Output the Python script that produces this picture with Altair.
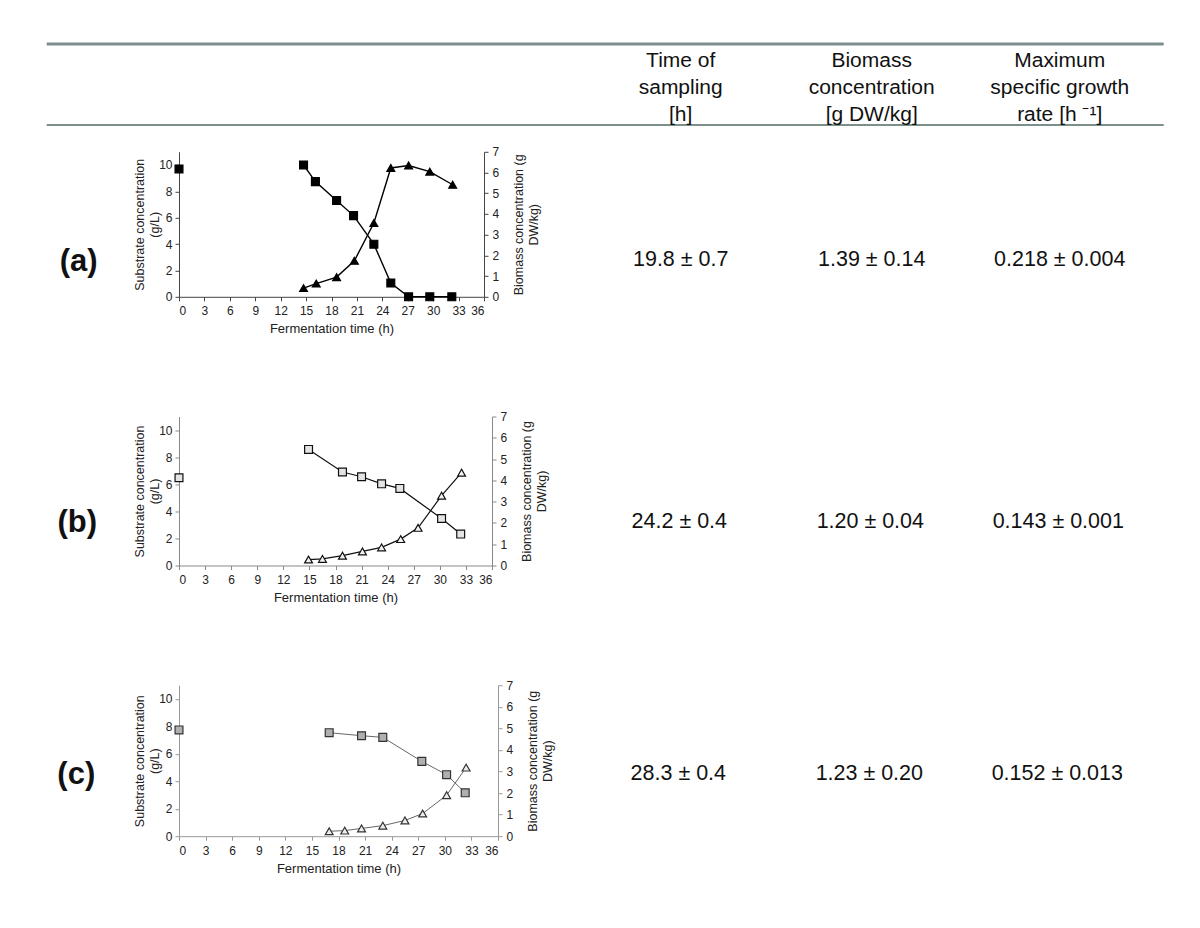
import altair as alt
import pandas as pd

FONT = "Liberation Sans"

# ---------------- data ----------------
headers = ["Time of\nsampling\n[h]", "Biomass\nconcentration\n[g DW/kg]", "Maximum\nspecific growth\nrate [h \u207b\u00b9]"]
row_labels = ["(a)", "(b)", "(c)"]
sampling_time = ["19.8 \u00b1 0.7", "24.2 \u00b1 0.4", "28.3 \u00b1 0.4"]
biomass_conc = ["1.39 \u00b1 0.14", "1.20 \u00b1 0.04", "1.23 \u00b1 0.20"]
max_growth = ["0.218 \u00b1 0.004", "0.143 \u00b1 0.001", "0.152 \u00b1 0.013"]

x_ticks = [0, 3, 6, 9, 12, 15, 18, 21, 24, 27, 30, 33, 36]
left_ticks = [0, 2, 4, 6, 8, 10]
right_ticks = [0, 1, 2, 3, 4, 5, 6, 7]

a_sub_t = [0, 14.7, 16.1, 18.6, 20.6, 23.0, 25.0, 27.1, 29.6, 32.2]
a_sub_v = [9.7, 10.0, 8.74, 7.30, 6.16, 3.99, 1.05, 0, 0, 0]
a_bio_t = [14.7, 16.2, 18.6, 20.7, 23.0, 25.0, 27.1, 29.6, 32.3]
a_bio_v = [0.42, 0.64, 0.95, 1.74, 3.56, 6.22, 6.34, 6.04, 5.41]

b_sub_t = [0, 14.9, 18.8, 21.0, 23.3, 25.4, 30.2, 32.4]
b_sub_v = [6.48, 8.57, 6.90, 6.55, 6.03, 5.69, 3.47, 2.32]
b_bio_t = [14.9, 16.5, 18.8, 21.1, 23.3, 25.5, 27.5, 30.2, 32.5]
b_bio_v = [0.28, 0.31, 0.46, 0.66, 0.85, 1.24, 1.77, 3.28, 4.36]

c_sub_t = [0, 16.95, 20.6, 23.0, 27.4, 30.2, 32.3]
c_sub_v = [7.74, 7.54, 7.32, 7.20, 5.45, 4.48, 3.16]
c_bio_t = [16.95, 18.7, 20.6, 23.0, 25.5, 27.5, 30.2, 32.4]
c_bio_v = [0.23, 0.26, 0.36, 0.49, 0.73, 1.05, 1.90, 3.18]

# ---------------- layout constants (page pixels) ----------------
COL_X = [681, 872, 1060]
RULE_X1, RULE_X2 = 47, 1164
RULE_COLOR = "#7d8f8c"
HEADER_BASE = 66.7
LINE_H = 26.7

STYLES = [
    dict(sq_fill="#000000", sq_stroke="#000000", tri_fill="#000000", tri_stroke="#000000",
         line="#000000", lw=1.4, axis="#444444"),
    dict(sq_fill="#e4e4e4", sq_stroke="#111111", tri_fill="#f2f2f2", tri_stroke="#111111",
         line="#111111", lw=1.2, axis="#8a8a8a"),
    dict(sq_fill="#b0b0b0", sq_stroke="#333333", tri_fill="#eeeeee", tri_stroke="#333333",
         line="#666666", lw=1.0, axis="#999999"),
]


def one():
    return pd.DataFrame({"k": [0]})


def text_layer(s, x, y, size, weight="normal"):
    return alt.Chart(pd.DataFrame({"t": [s]})).mark_text(
        font=FONT, fontSize=size, fontWeight=weight, align="center",
        baseline="alphabetic", color="#111111", lineBreak="\n", lineHeight=LINE_H,
    ).encode(text="t:N", x=alt.value(x), y=alt.value(y))


def panel(i, sub_t, sub_v, bio_t, bio_v, w, h, ox, oy, label_base, value_base, header=False):
    st = STYLES[i]
    sub = pd.DataFrame({"t": sub_t, "v": sub_v})
    bio = pd.DataFrame({"t": bio_t, "v": bio_v})
    xenc = alt.X("t:Q", scale=alt.Scale(domain=[0, 36], nice=False, zero=False),
                 axis=alt.Axis(values=x_ticks, title="Fermentation time (h)", grid=False,
                               labelFontSize=12, titleFontSize=13, titleFontWeight="normal",
                               tickSize=4, labelPadding=5, titlePadding=6,
                               domainColor=st["axis"], tickColor=st["axis"],
                               labelColor="#222222", titleColor="#222222"))
    yl = alt.Y("v:Q", scale=alt.Scale(domain=[0, 11], nice=False),
               axis=alt.Axis(orient="left", values=left_ticks, grid=False,
                             title=["Substrate concentration", "(g/L)"],
                             labelFontSize=12, titleFontSize=12.5, titleFontWeight="normal",
                             titleLineHeight=15, tickSize=4, labelPadding=3, titlePadding=-3,
                             domainColor=st["axis"], tickColor=st["axis"],
                             labelColor="#222222", titleColor="#222222"))
    yr = alt.Y("v:Q", scale=alt.Scale(domain=[0, 7], nice=False),
               axis=alt.Axis(orient="right", values=right_ticks, grid=False,
                             title=["Biomass concentration (g", "DW/kg)"],
                             titleAngle=270, titleBaseline="top",
                             labelFontSize=12, titleFontSize=12.5, titleFontWeight="normal",
                             titleLineHeight=15, tickSize=4, labelPadding=4, titlePadding=-1,
                             domainColor=st["axis"], tickColor=st["axis"],
                             labelColor="#222222", titleColor="#222222"))

    sub_line = alt.Chart(sub).transform_filter("datum.t > 0").mark_line(
        color=st["line"], strokeWidth=st["lw"]).encode(x=xenc, y=yl)
    sub_pts = alt.Chart(sub).mark_point(
        shape="square", size=62, fill=st["sq_fill"], stroke=st["sq_stroke"],
        strokeWidth=1.2, opacity=1).encode(x=xenc, y=yl)
    bio_line = alt.Chart(bio).mark_line(
        color=st["line"], strokeWidth=st["lw"]).encode(x=xenc, y=yr)
    bio_pts = alt.Chart(bio).mark_point(
        shape="triangle-up", size=62, fill=st["tri_fill"], stroke=st["tri_stroke"],
        strokeWidth=1.2, opacity=1).encode(x=xenc, y=yr)

    left = alt.layer(sub_line, sub_pts)
    right = alt.layer(bio_line, bio_pts)

    extra = []
    # invisible (white) helper that fixes the panel's outer bounds
    top_helper = 0 if header else -20
    extra.append(alt.Chart(one()).mark_rule(color="white", strokeWidth=3).encode(
        x=alt.value(RULE_X1 - ox), y=alt.value(top_helper), y2=alt.value(h + 50)))
    # row label and table values
    extra.append(text_layer(row_labels[i], 79 - ox, label_base - oy, 31, "bold"))
    for cx, vals in zip(COL_X, [sampling_time, biomass_conc, max_growth]):
        extra.append(text_layer(vals[i], cx - ox, value_base - oy, 21.5))
    if header:
        extra.append(alt.Chart(one()).mark_rule(color=RULE_COLOR, strokeWidth=3).encode(
            x=alt.value(RULE_X1 - ox), x2=alt.value(RULE_X2 - ox), y=alt.value(43.3 - oy)))
        extra.append(alt.Chart(one()).mark_rule(color=RULE_COLOR, strokeWidth=2).encode(
            x=alt.value(RULE_X1 - ox), x2=alt.value(RULE_X2 - ox), y=alt.value(124.3 - oy)))
        for cx, htxt in zip(COL_X, headers):
            extra.append(text_layer(htxt, cx - ox, HEADER_BASE - oy, 21))

    return alt.layer(left, right, *extra).resolve_scale(y="independent").properties(
        width=w, height=h)


A = panel(0, a_sub_t, a_sub_v, a_bio_t, a_bio_v, 305, 145, 179.3, 151.0, 270, 265, header=True)
B = panel(1, b_sub_t, b_sub_v, b_bio_t, b_bio_v, 313, 149, 180.7, 414.7, 530, 526)
C = panel(2, c_sub_t, c_sub_v, c_bio_t, c_bio_v, 319, 151, 181.7, 685.0, 784, 780)

chart = alt.vconcat(A, alt.vconcat(B, C, spacing=45.7), spacing=45.7).properties(
    padding={"left": 34, "top": 33.8, "right": 5, "bottom": 5}
).configure(font=FONT).configure_view(stroke=None)

chart.save("out.html", embed_options={"renderer": "svg", "actions": False})
